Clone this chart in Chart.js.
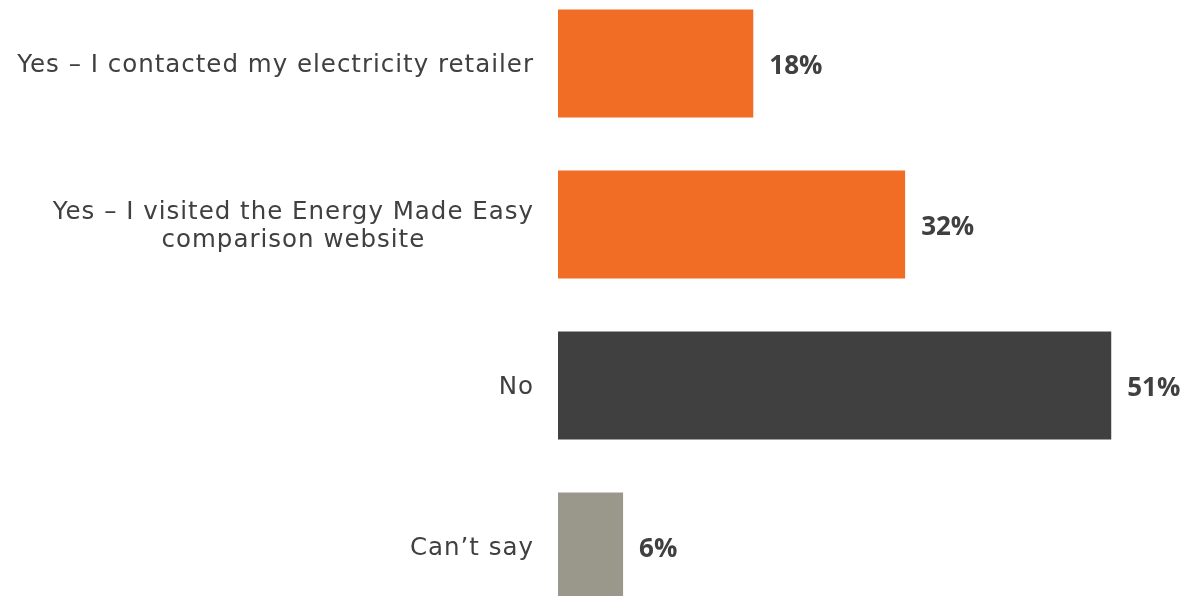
<!DOCTYPE html>
<html>
<head>
<meta charset="utf-8">
<script src="https://cdn.jsdelivr.net/npm/chart.js@4/dist/chart.umd.min.js"></script>
<style>
  html, body { margin: 0; padding: 0; background: #ffffff; overflow: hidden; }
  #wrap { position: absolute; left: 0; top: -17px; width: 1185px; height: 644px; }
</style>
</head>
<body>
<div id="wrap"><canvas id="chart" width="1185" height="644"></canvas></div>
<script>
// Survey responses: did the respondent check their electricity deal?
const categories = [
  ["Yes \u2013 I contacted my electricity retailer"],
  ["Yes \u2013 I visited the Energy Made Easy", "comparison website"],
  ["No"],
  ["Can\u2019t say"]
];
const shares = [18, 32, 51, 6];
const valueLabels = ["18%", "32%", "51%", "6%"];

const barColours = ["#F16C25", "#F16C25", "#404040", "#9A988A"];

// Category labels: block right-aligned against the bars, lines centred within the block
const categoryLabelPlugin = {
  id: "categoryLabels",
  afterDraw(chart) {
    const ctx = chart.ctx;
    const yScale = chart.scales.y;
    const right = chart.chartArea.left - 25;
    const lineHeight = 28;
    const spacing = 1.0;
    ctx.save();
    ctx.font = "24.5px 'DejaVu Sans'";
    ctx.letterSpacing = spacing + "px";
    ctx.fillStyle = "#404040";
    ctx.textAlign = "left";
    ctx.textBaseline = "middle";
    categories.forEach((lines, i) => {
      const cy = yScale.getPixelForValue(i) + 2;
      const widths = lines.map(l => ctx.measureText(l).width - spacing);
      const maxW = Math.max(...widths);
      const cx = right - maxW / 2;
      const top = cy - (lines.length - 1) * lineHeight / 2;
      lines.forEach((l, k) => ctx.fillText(l, cx - widths[k] / 2, top + k * lineHeight));
    });
    ctx.restore();
  }
};

// Percentage labels at the end of each bar
const valueLabelPlugin = {
  id: "valueLabels",
  afterDatasetsDraw(chart) {
    const ctx = chart.ctx;
    const meta = chart.getDatasetMeta(0);
    ctx.save();
    ctx.font = "bold 26px 'Open Sans'";
    ctx.fillStyle = "#404040";
    ctx.textAlign = "left";
    ctx.textBaseline = "middle";
    meta.data.forEach((bar, i) => {
      ctx.fillText(valueLabels[i], bar.x + 16, bar.y + 3);
    });
    ctx.restore();
  }
};

new Chart(document.getElementById("chart"), {
  type: "bar",
  data: {
    labels: categories.map(c => c.join(" ")),
    datasets: [{
      data: shares,
      backgroundColor: barColours,
      borderWidth: 0,
      barPercentage: 0.671,
      categoryPercentage: 1
    }]
  },
  options: {
    indexAxis: "y",
    responsive: false,
    animation: false,
    devicePixelRatio: 1,
    layout: { padding: { left: 558, right: 0, top: 0, bottom: 0 } },
    plugins: {
      legend: { display: false },
      tooltip: { enabled: false }
    },
    scales: {
      x: { display: false, min: 0, max: 57.8 },
      y: { display: false, offset: true }
    }
  },
  plugins: [categoryLabelPlugin, valueLabelPlugin]
});
</script>
</body>
</html>
